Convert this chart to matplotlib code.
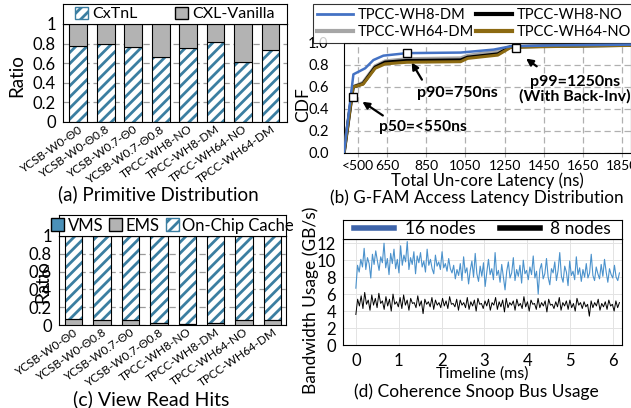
# Four-panel figure: primitive distribution, latency CDF, read hits, snoop bus usage

import numpy as np
import matplotlib.pyplot as plt
from matplotlib.patches import Patch
from matplotlib.lines import Line2D

plt.rcParams['font.family'] = ['Lato', 'DejaVu Sans']
plt.rcParams['hatch.linewidth'] = 2.0

# ---- data ----
workloads = ['YCSB-W0-Θ0', 'YCSB-W0-Θ0.8', 'YCSB-W0.7-Θ0', 'YCSB-W0.7-Θ0.8',
             'TPCC-WH8-NO', 'TPCC-WH8-DM', 'TPCC-WH64-NO', 'TPCC-WH64-DM']

# (a) share of CxTnL primitives, rest is CXL-Vanilla
cxtnl_ratio = [0.772, 0.793, 0.762, 0.663, 0.752, 0.820, 0.609, 0.735]

# (c) view read hits
vms_ratio = [0.003, 0.003, 0.003, 0.002, 0.002, 0.002, 0.003, 0.003]
ems_ratio = [0.068, 0.058, 0.048, 0.020, 0.010, 0.022, 0.055, 0.050]

# (b) latency CDF
wh8_dm_ns = [430, 478, 538, 580, 631, 751, 1025, 1194, 1281, 1500, 1895]
wh8_dm_cdf = [0.0, 0.715, 0.77, 0.845, 0.885, 0.908, 0.913, 0.94, 0.97, 0.978, 0.985]
other_ns = [430, 476, 527, 589, 640, 751, 1025, 1061, 1215, 1281, 1500, 1895]
wh64_dm_cdf = [0.0, 0.60, 0.64, 0.79, 0.835, 0.855, 0.862, 0.885, 0.925, 0.968, 0.976, 0.985]
wh8_no_cdf = [0.0, 0.60, 0.63, 0.78, 0.825, 0.84, 0.845, 0.87, 0.90, 0.965, 0.972, 0.98]
wh64_no_cdf = [0.0, 0.60, 0.625, 0.77, 0.81, 0.825, 0.83, 0.86, 0.89, 0.96, 0.968, 0.978]
pct_ns = [475, 751, 1307]
pct_cdf = [0.51, 0.91, 0.955]
lat_ticks = [500, 650, 850, 1050, 1250, 1450, 1650, 1850]
lat_labels = ['<500', '650', '850', '1050', '1250', '1450', '1650', '1850']

# (d) snoop bus bandwidth (GB/s), sampled over ~6.15 ms
bw_16 = [6.7, 9.4, 8.6, 10.1, 9.2, 11.4, 8.9, 10.3, 9.6, 7.9, 10.7, 9.5, 11.1, 9.9, 8.8, 10.4,
         9.7, 12.0, 9.1, 10.2, 8.3, 10.8, 9.6, 11.3, 9.0, 10.1, 8.5, 11.7, 9.4, 10.6, 9.8, 12.2,
         8.9, 10.3, 9.5, 11.0, 8.4, 10.5, 9.7,
         10.9, 9.2, 9.9, 8.6, 11.3, 9.4, 10.1, 9.0, 8.4, 10.6, 9.3, 9.8, 8.9, 11.0, 9.1, 9.6,
         8.7, 10.2, 9.0, 8.5, 9.4,
         7.8, 8.9, 8.2, 9.6, 7.6, 10.4, 8.5, 9.1, 7.2, 8.8, 9.9, 8.0, 10.8, 8.4, 7.5, 9.3, 8.1,
         9.7, 6.9, 8.6, 10.1, 8.3, 9.0, 7.7, 10.9, 8.2, 8.8, 7.4, 9.5, 8.0, 6.5, 8.7, 9.8, 7.9,
         8.5, 10.3, 7.6, 8.9, 8.1, 9.4, 7.3, 10.0, 8.4, 8.8,
         7.7, 9.2, 8.3, 10.5, 7.9, 8.7, 6.0, 8.9, 9.6, 7.8, 8.4, 10.2, 8.0, 7.1, 9.0, 8.5, 9.8,
         7.6, 8.8, 10.9, 8.1, 7.4, 9.3, 8.6, 7.0, 9.9, 8.2, 8.7, 7.7, 10.4, 8.3, 9.1, 7.5, 8.9,
         8.0, 9.6, 7.9, 8.5, 10.7, 8.2, 7.6, 9.2, 8.4, 7.8, 9.5, 8.1, 10.1, 8.6, 7.4, 9.0, 8.3,
         7.9, 9.4, 8.0, 7.6, 8.5]
bw_8 = [3.6, 5.4, 4.6, 5.8, 4.3, 6.2, 4.8, 5.3, 4.1, 5.9, 4.7, 5.5, 4.4, 6.1, 4.9, 5.2, 4.2, 5.7,
        4.6, 5.4, 4.0, 6.0, 4.8, 5.1, 4.5, 5.6, 4.3, 5.9, 4.7, 5.3, 4.1, 5.5, 4.9, 5.0, 4.4, 5.8,
        4.6, 5.2, 3.7, 5.4, 4.8, 5.1, 4.5, 5.6, 4.2, 5.3, 4.7, 5.0, 4.4, 5.5, 4.6, 5.2, 4.3, 5.7,
        4.8, 4.9, 4.5, 5.4, 4.1, 5.3, 4.7, 5.0, 4.4, 5.6, 4.2, 5.1, 4.6, 5.3, 4.0, 5.5, 4.8, 4.9,
        4.3, 5.2, 4.6, 5.4, 4.1, 5.0, 4.7, 5.6, 4.2, 5.1, 4.5, 5.3, 3.9, 5.5, 4.4, 5.0, 4.7, 5.2,
        4.1, 5.4, 4.6, 4.9, 4.3, 5.7, 4.5, 5.1, 4.0, 5.3, 4.8, 4.9, 4.2, 5.5, 4.4, 5.0, 4.6, 5.2,
        3.9, 5.4, 4.7, 4.8, 4.3, 5.1, 4.5, 5.6, 4.1, 5.0, 4.6, 5.2, 4.2, 5.3, 4.4, 4.9, 4.0, 5.5,
        4.7, 5.0, 4.3, 5.1, 4.5, 4.8, 3.4, 5.2, 4.4, 5.0, 4.6, 5.4, 4.1, 4.9, 4.5, 5.1, 4.2, 5.3,
        4.6, 4.8, 4.0, 5.2, 4.4, 5.0]
t_end_ms = 6.15

hatch_c = '#3b7ea1'
gray_c = '#b3b3b3'
W, H = 631, 408


def px_axes(x0, y0, x1, y1):
    # axes from pixel box (top-left origin)
    return fig.add_axes([x0 / W, 1 - y1 / H, (x1 - x0) / W, (y1 - y0) / H])


def hatched_bar(ax, x, h, bottom, width):
    ax.bar(x, h, width, bottom=bottom, color='white', edgecolor=hatch_c, hatch='///',
           linewidth=0, zorder=2)
    ax.bar(x, h, width, bottom=bottom, fill=False, edgecolor='black', linewidth=0.8, zorder=3)


def bar_axes_style(ax):
    ax.set_ylim(0, 1.0)
    ax.set_yticks([0, 0.2, 0.4, 0.6, 0.8, 1])
    ax.set_yticklabels(['0', '0.2', '0.4', '0.6', '0.8', '1'])
    ax.yaxis.grid(True, linestyle=(0, (5, 3)), color='#9a9a9a', linewidth=0.9, zorder=0)
    ax.set_axisbelow(True)
    ax.tick_params(axis='y', length=0, labelsize=12, pad=5)
    ax.tick_params(axis='x', length=0, labelsize=8.5, pad=1)
    ax.set_xticks(range(len(workloads)))
    ax.set_xticklabels(workloads, rotation=35, ha='right', rotation_mode='anchor')
    for s in ax.spines.values():
        s.set_color('black')


def strip_legend(box_px, handles, labels, fs, **kw):
    # legend strip: an empty axes whose spines form the box, entries centred inside
    lax = px_axes(*box_px)
    lax.set_xticks([])
    lax.set_yticks([])
    for s in lax.spines.values():
        s.set_color('black')
        s.set_linewidth(0.8)
    lax.legend(handles, labels, ncol=len(labels), loc='center', frameon=False,
               borderpad=0, borderaxespad=0, fontsize=fs, **kw)
    return lax


fig = plt.figure(figsize=(W / 100, H / 100), dpi=100)
xs = np.arange(len(workloads))

# ---- (a) Primitive Distribution ----
ax_a = px_axes(63, 24, 287, 122)
vanilla = [1 - v for v in cxtnl_ratio]
hatched_bar(ax_a, xs, cxtnl_ratio, 0, 0.65)
ax_a.bar(xs, vanilla, 0.65, bottom=cxtnl_ratio, color=gray_c, edgecolor='black',
         linewidth=0.8, zorder=3)
ax_a.set_xlim(-0.55, 7.6)
bar_axes_style(ax_a)
strip_legend((63, 4, 287, 24),
             [Patch(facecolor='white', edgecolor=hatch_c, hatch='///'),
              Patch(facecolor=gray_c, edgecolor='black')],
             ['CxTnL', 'CXL-Vanilla'], 11.5, handlelength=0.8, handleheight=0.8,
             handletextpad=0.3, columnspacing=2.3)
fig.text(17 / W, 1 - 76 / H, 'Ratio', rotation=90, ha='center', va='center', fontsize=13.5)
fig.text(158 / W, 1 - 194 / H, '(a) Primitive Distribution', ha='center', va='center',
         fontsize=13.5)

# ---- (c) View Read Hits ----
ax_c = px_axes(59, 236, 286, 325)
onchip = [1 - v - e for v, e in zip(vms_ratio, ems_ratio)]
ax_c.bar(xs, vms_ratio, 0.61, color='#4a90b8', edgecolor='black', linewidth=0.8, zorder=3)
ax_c.bar(xs, ems_ratio, 0.61, bottom=vms_ratio, color=gray_c, edgecolor='black',
         linewidth=0.8, zorder=3)
hatched_bar(ax_c, xs, onchip, np.add(vms_ratio, ems_ratio), 0.61)
ax_c.set_xlim(-0.52, 7.48)
bar_axes_style(ax_c)
strip_legend((59, 215, 286, 236),
             [Patch(facecolor='#4a90b8', edgecolor='black'),
              Patch(facecolor=gray_c, edgecolor='black'),
              Patch(facecolor='white', edgecolor=hatch_c, hatch='///')],
             ['VMS', 'EMS', 'On-Chip Cache'], 12, handlelength=0.8, handleheight=0.8,
             handletextpad=0.2, columnspacing=0.35)
fig.text(43 / W, 1 - 282 / H, 'Ratio', rotation=90, ha='center', va='center', fontsize=13.5)
fig.text(151 / W, 1 - 399 / H, '(c) View Read Hits', ha='center', va='center', fontsize=14)

# ---- (b) G-FAM Access Latency Distribution ----
ax_b = px_axes(344, 43, 631, 153)
ax_b.plot(other_ns, wh64_dm_cdf, color='#a6a6a6', lw=2.6, zorder=3)
ax_b.plot(other_ns, wh8_no_cdf, color='black', lw=2.4, zorder=4)
ax_b.plot(other_ns, wh64_no_cdf, color='#8c6a12', lw=2.2, zorder=5)
ax_b.plot(wh8_dm_ns, wh8_dm_cdf, color='#4472c4', lw=1.8, zorder=6)
ax_b.plot(pct_ns, pct_cdf, 's', ms=6, mfc='white', mec='black', mew=1.0, zorder=8)
ax_b.set_xlim(430, 1895)
ax_b.set_ylim(0, 1.0)
ax_b.set_xticks(lat_ticks)
ax_b.set_xticklabels(lat_labels)
ax_b.set_yticks([0, 0.2, 0.4, 0.6, 0.8, 1.0])
ax_b.set_yticklabels(['0.0', '0.2', '0.4', '0.6', '0.8', '1.0'])
ax_b.grid(True, linestyle=(0, (5, 3)), color='#b0b0b0', linewidth=0.9)
ax_b.tick_params(axis='both', labelsize=10, pad=2)
ax_b.tick_params(axis='y', length=0, pad=11, labelsize=10.5)
ax_b.tick_params(axis='x', length=3, color='#b0b0b0')
ax_b.set_xlabel('Total Un-core Latency (ns)', fontsize=12, labelpad=0)
fig.text(303 / W, 1 - 105 / H, 'CDF', rotation=90, ha='center', va='center', fontsize=12.5)
fig.text(477 / W, 1 - 198 / H, '(b) G-FAM Access Latency Distribution', ha='center',
         va='center', fontsize=12.3)
arrow = dict(arrowstyle='-|>', color='black', lw=1.6, mutation_scale=10)
ax_b.annotate('', xy=(512, 0.48), xytext=(640, 0.327), arrowprops=arrow)
ax_b.annotate('', xy=(768, 0.845), xytext=(835, 0.645), arrowprops=arrow)
ax_b.annotate('', xy=(1348, 0.873), xytext=(1425, 0.773), arrowprops=arrow)
ax_b.text(835, 0.236, 'p50=<550ns', ha='center', va='center', fontsize=11.2, fontweight='bold')
ax_b.text(1009, 0.545, 'p90=750ns', ha='center', va='center', fontsize=11.5, fontweight='bold')
ax_b.text(1610, 0.58, 'p99=1250ns\n(With Back-Inv)', ha='center', va='center', fontsize=11.5,
          fontweight='bold', linespacing=0.95)
leg = ax_b.legend([Line2D([], [], color='#4472c4', lw=2), Line2D([], [], color='#a6a6a6', lw=3),
                   Line2D([], [], color='black', lw=3), Line2D([], [], color='#8c6a12', lw=3)],
                  ['TPCC-WH8-DM', 'TPCC-WH64-DM', 'TPCC-WH8-NO', 'TPCC-WH64-NO'],
                  ncol=2, loc='lower left', bbox_to_anchor=(-0.108, 1, 1.12, 0.355),
                  mode='expand', borderaxespad=0, fancybox=False, edgecolor='black',
                  fontsize=10.5, handlelength=2.5, handletextpad=0.3, borderpad=0.25,
                  labelspacing=0.25)
leg.get_frame().set_linewidth(0.8)

# ---- (d) Coherence Snoop Bus Usage ----
ax_d = px_axes(343, 239, 622, 345)
t16 = np.arange(len(bw_16)) * t_end_ms / (len(bw_16) - 1)
t8 = np.arange(len(bw_8)) * t_end_ms / (len(bw_8) - 1)
ax_d.plot(t16, bw_16, color='#4b92cc', lw=0.8)
ax_d.plot(t8, bw_8, color='black', lw=0.7)
ax_d.set_xlim(-0.3, 6.21)
ax_d.set_ylim(0, 12.5)
ax_d.set_xticks(range(7))
ax_d.set_yticks([0, 2, 4, 6, 8, 10, 12])
ax_d.grid(True, color='#e3e3e3', linewidth=0.7)
ax_d.set_axisbelow(True)
ax_d.tick_params(axis='both', length=0, labelsize=12, pad=5)
ax_d.tick_params(axis='x', pad=6)
ax_d.set_xlabel('Timeline (ms)', fontsize=11.5, labelpad=-2)
fig.text(311 / W, 1 - 300 / H, 'Bandwidth Usage (GB/s)', rotation=90, ha='center',
         va='center', fontsize=12.5)
fig.text(476 / W, 1 - 392 / H, '(d) Coherence Snoop Bus Usage', ha='center', va='center',
         fontsize=12.5)
strip_legend((343, 220, 622, 239),
             [Line2D([], [], color='#3e64aa', lw=4), Line2D([], [], color='black', lw=4)],
             ['16 nodes', '8 nodes'], 12.5, handlelength=2.3, handletextpad=0.6,
             columnspacing=1.4)

fig.savefig('out.png', dpi=100)
